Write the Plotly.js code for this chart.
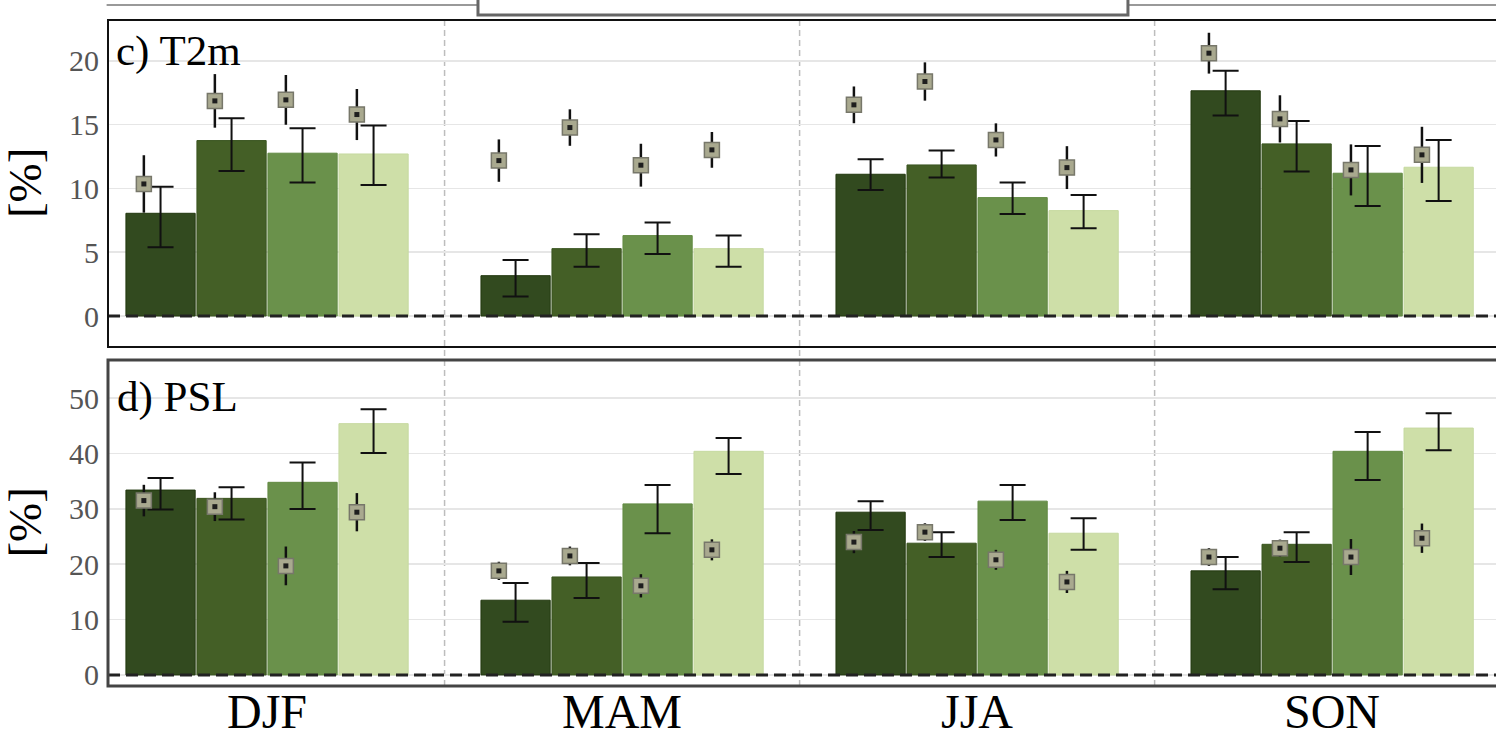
<!DOCTYPE html>
<html>
<head>
<meta charset="utf-8">
<script src="https://cdn.plot.ly/plotly-3.0.1.min.js"></script>
<style>
html,body{margin:0;padding:0;overflow:hidden;background:#fff;}
#chart{width:1520px;height:739px;}
</style>
</head>
<body>
<div id="chart"></div>
<script>
// ---- data ----
const seasons = ['DJF', 'MAM', 'JJA', 'SON'];
const seriesColors = ['#324a1f', '#445f26', '#6a914b', '#cedfa8'];
const seriesEdges  = ['#22380f', '#3a5520', '#628a43', '#c6d9a0'];

// T2m bars (per series, over seasons)
const t2mBar1 = [8.05, 3.16, 11.11, 17.65];
const t2mBar2 = [13.75, 5.28, 11.84, 13.49];
const t2mBar3 = [12.76, 6.30, 9.28, 11.19];
const t2mBar4 = [12.70, 5.28, 8.26, 11.66];
const t2mBarHi1 = [10.14, 4.39, 12.29, 19.22];
const t2mBarLo1 = [5.39, 1.52, 9.88, 15.71];
const t2mBarHi2 = [15.50, 6.40, 12.97, 15.29];
const t2mBarLo2 = [11.37, 3.87, 10.85, 11.32];
const t2mBarHi3 = [14.72, 7.32, 10.46, 13.33];
const t2mBarLo3 = [10.46, 4.86, 8.00, 8.63];
const t2mBarHi4 = [14.93, 6.30, 9.49, 13.80];
const t2mBarLo4 = [10.27, 3.87, 6.88, 9.02];
// T2m squares
const t2mSq1 = [10.35, 12.18, 16.55, 20.60];
const t2mSq2 = [16.86, 14.77, 18.38, 15.45];
const t2mSq3 = [16.94, 11.82, 13.80, 11.45];
const t2mSq4 = [15.79, 13.02, 11.63, 12.63];
const t2mSqErr1 = [2.25, 1.66, 1.44, 1.60];
const t2mSqErr2 = [2.10, 1.43, 1.50, 1.85];
const t2mSqErr3 = [1.95, 1.68, 1.30, 2.00];
const t2mSqErr4 = [2.00, 1.40, 1.68, 2.20];

// PSL bars
const pslBar1 = [33.4, 13.5, 29.4, 18.8];
const pslBar2 = [31.9, 17.7, 23.8, 23.6];
const pslBar3 = [34.8, 30.9, 31.4, 40.4];
const pslBar4 = [45.4, 40.4, 25.6, 44.6];
const pslBarHi1 = [35.6, 16.6, 31.4, 21.3];
const pslBarLo1 = [29.9, 9.6, 26.2, 15.5];
const pslBarHi2 = [33.9, 20.2, 25.8, 25.8];
const pslBarLo2 = [28.1, 13.9, 21.3, 20.4];
const pslBarHi3 = [38.4, 34.3, 34.3, 43.9];
const pslBarLo3 = [30.0, 25.6, 28.0, 35.2];
const pslBarHi4 = [48.0, 42.8, 28.3, 47.3];
const pslBarLo4 = [40.1, 36.3, 22.6, 40.6];
// PSL squares
const pslSq1 = [31.5, 18.8, 24.0, 21.3];
const pslSq2 = [30.4, 21.5, 25.8, 22.9];
const pslSq3 = [19.7, 16.1, 20.8, 21.3];
const pslSq4 = [29.4, 22.6, 16.8, 24.7];
const pslSqErr1 = [2.85, 1.65, 2.0, 1.6];
const pslSqErr2 = [2.6, 1.7, 1.6, 1.55];
const pslSqErr3 = [3.5, 2.1, 1.8, 3.25];
const pslSqErr4 = [3.45, 1.9, 2.0, 2.65];

const t2mTicks = [0, 5, 10, 15, 20];
const pslTicks = [0, 10, 20, 30, 40, 50];

// ---- build ----
const SLOT = 0.2, BARW = 0.195, SQSHIFT = 0.047;
const FONT = 'Liberation Serif';

const panels = [
  {xa:'x', ya:'y', bars:[t2mBar1,t2mBar2,t2mBar3,t2mBar4],
   hi:[t2mBarHi1,t2mBarHi2,t2mBarHi3,t2mBarHi4], lo:[t2mBarLo1,t2mBarLo2,t2mBarLo3,t2mBarLo4],
   sq:[t2mSq1,t2mSq2,t2mSq3,t2mSq4], sqe:[t2mSqErr1,t2mSqErr2,t2mSqErr3,t2mSqErr4]},
  {xa:'x2', ya:'y2', bars:[pslBar1,pslBar2,pslBar3,pslBar4],
   hi:[pslBarHi1,pslBarHi2,pslBarHi3,pslBarHi4], lo:[pslBarLo1,pslBarLo2,pslBarLo3,pslBarLo4],
   sq:[pslSq1,pslSq2,pslSq3,pslSq4], sqe:[pslSqErr1,pslSqErr2,pslSqErr3,pslSqErr4]}
];

const traces = [];
panels.forEach(p => {
  for (let k = 0; k < 4; k++) {
    const xs = seasons.map((_, i) => i + (k - 1.5) * SLOT);
    const v = p.bars[k];
    traces.push({
      type:'bar', x: xs, y: v, width: BARW, xaxis:p.xa, yaxis:p.ya,
      marker:{color: seriesColors[k], line:{color: seriesEdges[k], width:1}},
      error_y:{type:'data', symmetric:false,
        array: v.map((d, i) => p.hi[k][i] - d),
        arrayminus: v.map((d, i) => d - p.lo[k][i]),
        color:'#111', thickness:2, width:13},
      showlegend:false, hoverinfo:'skip'
    });
  }
});
panels.forEach(p => {
  for (let k = 0; k < 4; k++) {
    const xs = seasons.map((_, i) => i + (k - 1.5) * SLOT - SQSHIFT);
    traces.push({
      type:'scatter', mode:'markers', x: xs, y: p.sq[k], xaxis:p.xa, yaxis:p.ya,
      marker:{symbol:'square', size:15, color:'#a9a98f', line:{color:'#77776a', width:1.5}},
      error_y:{type:'data', array: p.sqe[k], color:'#111', thickness:2.5, width:0},
      showlegend:false, hoverinfo:'skip'
    });
    traces.push({
      type:'scatter', mode:'markers', x: xs, y: p.sq[k], xaxis:p.xa, yaxis:p.ya,
      marker:{symbol:'square', size:5, color:'#1e1e1e'},
      showlegend:false, hoverinfo:'skip'
    });
  }
});

const shapes = [];
// vertical separators between seasons
for (let i = 0; i < seasons.length - 1; i++) {
  shapes.push({type:'line', xref:'x', yref:'paper', x0:i+0.5, x1:i+0.5, y0:0, y1:1,
    line:{color:'#bdbdbd', width:1.5, dash:'6px,4px'}, layer:'below'});
}
// zero lines
shapes.push({type:'line', xref:'x domain', yref:'y', x0:0, x1:1, y0:0, y1:0,
  line:{color:'#222', width:3, dash:'12px,6px'}});
shapes.push({type:'line', xref:'x2 domain', yref:'y2', x0:0, x1:1, y0:0, y1:0,
  line:{color:'#222', width:3, dash:'12px,6px'}});
// frames
shapes.push({type:'rect', xref:'x domain', yref:'y domain', x0:0, x1:1, y0:0, y1:1,
  line:{color:'#111', width:2}});
shapes.push({type:'rect', xref:'x2 domain', yref:'y2 domain', x0:0, x1:1, y0:0, y1:1,
  line:{color:'#444', width:3}});
// bottom border of panel above and legend box (cropped at top)
shapes.push({type:'line', xref:'paper', yref:'paper', x0:-0.001, x1:1, y0:1.0225, y1:1.0225,
  line:{color:'#777', width:1.5}});
shapes.push({type:'rect', xref:'paper', yref:'paper', x0:0.2639, x1:0.7275, y0:1.0075, y1:1.06,
  fillcolor:'#ffffff', line:{color:'#666', width:3}});

const annotations = [
  {text:'c) T2m', xref:'x domain', yref:'y domain', x:0.004, y:0.905, xanchor:'left', yanchor:'middle',
   showarrow:false, font:{family:FONT, size:43, color:'#000'}},
  {text:'d) PSL', xref:'x2 domain', yref:'y2 domain', x:0.005, y:0.885, xanchor:'left', yanchor:'middle',
   showarrow:false, font:{family:FONT, size:43, color:'#000'}},
  {text:'[%]', xref:'paper', yref:'y domain', x:-0.0595, y:0.5, xanchor:'center', yanchor:'middle',
   textangle:-90, showarrow:false, font:{family:FONT, size:47, color:'#000'}},
  {text:'[%]', xref:'paper', yref:'y2 domain', x:-0.0595, y:0.5, xanchor:'center', yanchor:'middle',
   textangle:-90, showarrow:false, font:{family:FONT, size:47, color:'#000'}}
];
// season labels under the lower panel
seasons.forEach((s, i) => {
  annotations.push({text:s, xref:'x2', yref:'paper', x:i, y:-0.039, xanchor:'center', yanchor:'middle',
    showarrow:false, font:{family:FONT, size:48, color:'#000'}});
});

const xr = [-0.448, 3.501];
const layout = {
  width:1520, height:739, autosize:false,
  margin:{l:108, r:10, t:20, b:53},
  paper_bgcolor:'#fff', plot_bgcolor:'#fff',
  barmode:'overlay',
  font:{family:FONT},
  xaxis:{range:xr, anchor:'y', showticklabels:false, showgrid:false, zeroline:false, showline:false},
  xaxis2:{range:xr, anchor:'y2', showticklabels:false, showgrid:false, zeroline:false, showline:false},
  yaxis:{domain:[0.509, 1], range:[-2.43, 23.2], tickvals:t2mTicks, ticktext:t2mTicks.map(String),
    tickfont:{family:FONT, size:30, color:'#555'}, gridcolor:'#e6e6e6', gridwidth:1.5,
    zeroline:false, showline:false, ticks:'', ticklabelstandoff:8, anchor:'x'},
  yaxis2:{domain:[0, 0.4895], range:[-2.0, 56.9], tickvals:pslTicks, ticktext:pslTicks.map(String),
    tickfont:{family:FONT, size:30, color:'#555'}, gridcolor:'#e6e6e6', gridwidth:1.5,
    zeroline:false, showline:false, ticks:'', ticklabelstandoff:8, anchor:'x2'},
  shapes: shapes,
  annotations: annotations
};

Plotly.newPlot('chart', traces, layout, {displayModeBar:false, staticPlot:true});
</script>
</body>
</html>
